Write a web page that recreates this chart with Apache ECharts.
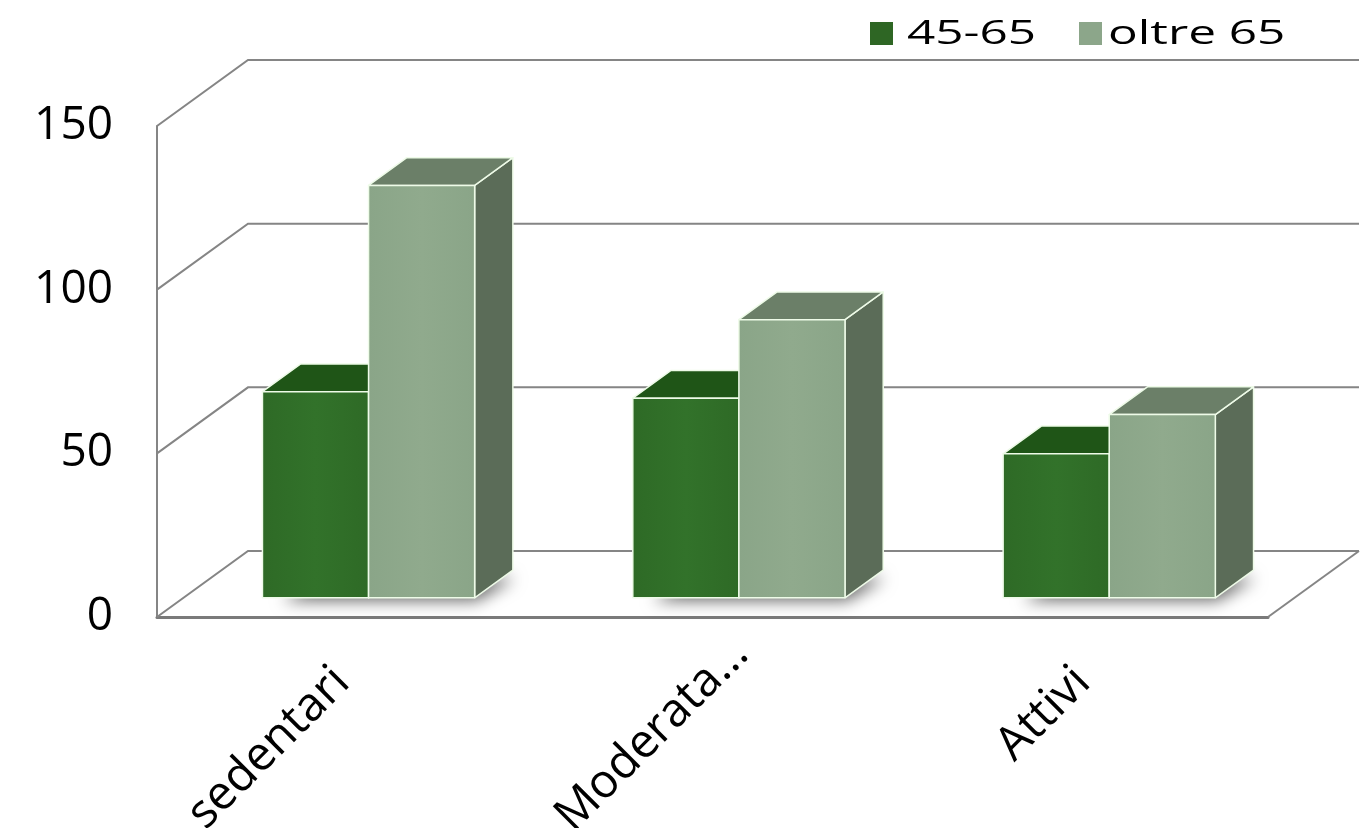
<!DOCTYPE html>
<html>
<head>
<meta charset="utf-8">
<title>Attività fisica per fascia d'età</title>
<script src="https://cdn.jsdelivr.net/npm/echarts@6/dist/echarts.min.js"></script>
<style>
  html, body { margin: 0; padding: 0; background: #ffffff; overflow: hidden; }
  #chart { width: 1370px; height: 828px; }
</style>
</head>
<body>
<div id="chart"></div>
<script>
// Data
const categories = ['sedentari', 'Moderata…', 'Attivi'];
const seriesNames = ['45-65', 'oltre 65'];
const values4565 = [63, 61, 44];
const valuesOltre65 = [126, 85, 56];
const yTicks = [0, 50, 100, 150];

// Pseudo-3D projection: how far the back wall sits from the front plane (px)
const DEPTH = [91, -66];
const BAR_FRONT = 0.29;   // bars start this far into the floor
const BAR_DEPTH = 0.42;   // bar thickness as a fraction of floor depth
const PAIR = 0.573;       // share of a category band taken by the bar pair

const palettes = [
  { legend: '#2e6624', front: '#2e6a26', frontLight: '#32722a', top: '#1f5517', side: '#264f1f' },
  { legend: '#8ca68a', front: '#8aa588', frontLight: '#90aa8d', top: '#6b7f68', side: '#5b6c58' }
];
const edge = '#eefbe8';
const gridColor = '#858585';

function barGeom(api, cat, v, s) {
  const base = api.coord([cat, 0]);
  const top = api.coord([cat, v]);
  const band = api.size([1, 0])[0];
  const bw = band * PAIR / 2;
  const x0 = base[0] - band * PAIR / 2 + s * bw + BAR_FRONT * DEPTH[0];
  return {
    x0: x0, x1: x0 + bw,
    yb: base[1] + BAR_FRONT * DEPTH[1],
    yt: top[1] + BAR_FRONT * DEPTH[1],
    dx: BAR_DEPTH * DEPTH[0], dy: BAR_DEPTH * DEPTH[1]
  };
}

function barRenderer(s) {
  const pal = palettes[s];
  return function (params, api) {
    const g = barGeom(api, api.value(0), api.value(1), s);
    const line = { stroke: edge, lineWidth: 1.5, lineJoin: 'round' };
    return {
      type: 'group',
      children: [
        {
          type: 'polygon',
          shape: { points: [[g.x1, g.yb], [g.x1 + g.dx, g.yb + g.dy], [g.x1 + g.dx, g.yt + g.dy], [g.x1, g.yt]] },
          style: Object.assign({ fill: pal.side }, line)
        },
        {
          type: 'polygon',
          shape: { points: [[g.x0, g.yt], [g.x1, g.yt], [g.x1 + g.dx, g.yt + g.dy], [g.x0 + g.dx, g.yt + g.dy]] },
          style: Object.assign({ fill: pal.top }, line)
        },
        {
          type: 'rect',
          shape: { x: g.x0, y: g.yt, width: g.x1 - g.x0, height: g.yb - g.yt },
          style: Object.assign({
            fill: {
              type: 'linear', x: 0, y: 0, x2: 1, y2: 0,
              colorStops: [
                { offset: 0, color: pal.front },
                { offset: 0.5, color: pal.frontLight },
                { offset: 1, color: pal.front }
              ]
            }
          }, line)
        }
      ]
    };
  };
}

// Soft floor shadow under each pair of bars
function shadowRenderer(params, api) {
  const cat = api.value(0);
  const a = barGeom(api, cat, 0, 0);
  const b = barGeom(api, cat, 0, 1);
  return {
    type: 'polygon',
    shape: {
      points: [[a.x0 + 12, a.yb - 3], [b.x1 - 6, a.yb - 3],
               [b.x1 + b.dx - 6, a.yb + a.dy + 2], [a.x0 + a.dx + 10, a.yb + a.dy + 2]]
    },
    style: {
      fill: '#6e6e6e',
      shadowBlur: 16,
      shadowColor: 'rgba(0,0,0,0.6)',
      shadowOffsetX: 8,
      shadowOffsetY: 6
    }
  };
}

// Left and back walls plus floor edges, one polyline per tick value
function wallRenderer(params, api) {
  const v = api.value(1);
  const band = api.size([1, 0])[0];
  const xL = api.coord([0, 0])[0] - band / 2;
  const xR = xL + band * categories.length;
  const y = api.coord([0, v])[1];
  const children = [{
    type: 'polyline',
    shape: { points: [[xL, y], [xL + DEPTH[0], y + DEPTH[1]], [xR + DEPTH[0], y + DEPTH[1]]] },
    style: { stroke: gridColor, lineWidth: 2, fill: null }
  }];
  if (v === 0) {
    children.push({
      type: 'line',
      shape: { x1: xR, y1: y, x2: xR + DEPTH[0], y2: y + DEPTH[1] },
      style: { stroke: gridColor, lineWidth: 2 }
    });
  }
  return { type: 'group', children: children };
}

const chart = echarts.init(document.getElementById('chart'), null, { renderer: 'canvas' });

// Legend: colour swatch plus widened label for each series
const legendItems = [];
const legendLayout = [
  { box: 870, text: 907 },
  { box: 1079, text: 1108 }
];
seriesNames.forEach(function (name, i) {
  legendItems.push({
    type: 'rect',
    shape: { x: legendLayout[i].box, y: 22, width: 23, height: 23 },
    style: { fill: palettes[i].legend }
  });
  legendItems.push({
    type: 'text',
    x: legendLayout[i].text,
    y: 35,
    scaleX: 1.5,
    style: {
      text: name,
      fill: '#000000',
      font: '33px "Open Sans"',
      textVerticalAlign: 'middle'
    }
  });
});

// Category labels; the truncated one sits a little further along its baseline
const categoryData = categories.map(function (c, i) {
  return i === 1 ? { value: c, textStyle: { padding: [0, -40, 0, 0] } } : c;
});

chart.setOption({
  animation: false,
  backgroundColor: '#ffffff',
  grid: { left: 157, right: 102, top: 126, bottom: 211, outerBoundsMode: 'none', containLabel: false },
  xAxis: {
    type: 'category',
    data: categoryData,
    axisLine: { show: true, lineStyle: { color: '#7a7a7a', width: 3 } },
    axisTick: { show: false },
    splitLine: { show: false },
    axisLabel: {
      rotate: 45,
      margin: 58,
      color: '#000000',
      fontFamily: 'Open Sans',
      fontSize: 47,
      interval: 0
    }
  },
  yAxis: {
    type: 'value',
    min: 0,
    max: 150,
    interval: 50,
    axisLine: { show: true, lineStyle: { color: gridColor, width: 2 } },
    axisTick: { show: false },
    splitLine: { show: false },
    axisLabel: {
      margin: 44,
      color: '#000000',
      fontFamily: 'Open Sans',
      fontSize: 46,
      formatter: function (v) { return yTicks.indexOf(v) >= 0 ? String(v) : ''; }
    }
  },
  graphic: legendItems,
  series: [
    {
      type: 'custom',
      name: 'walls',
      clip: false,
      silent: true,
      z: 1,
      renderItem: wallRenderer,
      data: yTicks.map(function (v) { return [0, v]; })
    },
    {
      type: 'custom',
      name: 'floor shadow',
      clip: false,
      silent: true,
      z: 2,
      renderItem: shadowRenderer,
      data: categories.map(function (c, i) { return [i, 0]; })
    },
    {
      type: 'custom',
      name: seriesNames[0],
      clip: false,
      z: 3,
      renderItem: barRenderer(0),
      data: values4565.map(function (v, i) { return [i, v]; })
    },
    {
      type: 'custom',
      name: seriesNames[1],
      clip: false,
      z: 4,
      renderItem: barRenderer(1),
      data: valuesOltre65.map(function (v, i) { return [i, v]; })
    }
  ]
});
</script>
</body>
</html>
